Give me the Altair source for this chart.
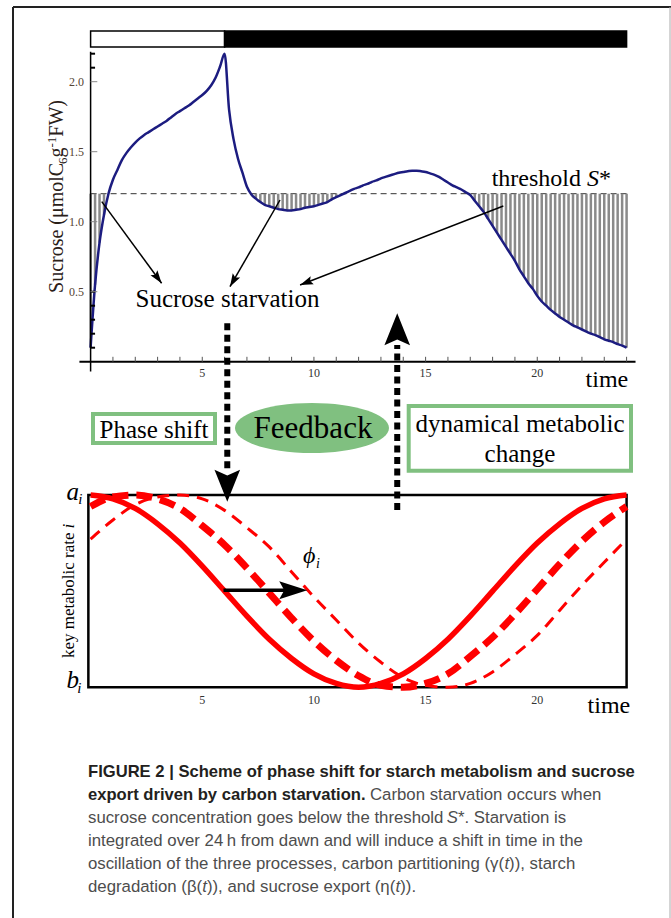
import math
import altair as alt
import pandas as pd

# ---------------- data ----------------
sucrose_time = [round(0.2 * i, 1) for i in range(121)]
sucrose = [
    0.10, 0.55, 0.85, 1.05, 1.20, 1.30, 1.37, 1.44, 1.49, 1.53,
    1.565, 1.595, 1.62, 1.64, 1.66, 1.68, 1.70, 1.72, 1.745, 1.77,
    1.79, 1.81, 1.83, 1.855, 1.88, 1.905, 1.935, 1.975, 2.03, 2.11,
    2.20, 1.80, 1.59, 1.45, 1.35, 1.25, 1.195, 1.165, 1.14, 1.12,
    1.11, 1.10, 1.09, 1.085, 1.08, 1.08, 1.085, 1.09, 1.10, 1.105,
    1.11, 1.12, 1.13, 1.14, 1.16, 1.175, 1.19, 1.205, 1.22, 1.235,
    1.245, 1.26, 1.27, 1.285, 1.295, 1.31, 1.32, 1.33, 1.34, 1.35,
    1.355, 1.36, 1.364, 1.364, 1.36, 1.355, 1.345, 1.335, 1.32, 1.30,
    1.28, 1.26, 1.245, 1.23, 1.21, 1.19, 1.15, 1.11, 1.07, 1.02,
    0.97, 0.92, 0.87, 0.82, 0.77, 0.72, 0.66, 0.61, 0.56, 0.52,
    0.47, 0.43, 0.40, 0.37, 0.345, 0.32, 0.30, 0.28, 0.26, 0.245,
    0.23, 0.215, 0.20, 0.19, 0.175, 0.16, 0.15, 0.14, 0.125, 0.115,
    0.10,
]
threshold = 1.2
light_start = [0, 6]
light_end = [6, 24]
light_fill = ["white", "black"]
time_tick_labels = [5, 10, 15, 20]
hour_ticks = list(range(1, 25))
sucrose_tick_labels = [0.5, 1.0, 1.5, 2.0]
sucrose_minor_ticks = [0.1, 0.2, 0.3, 0.4, 0.5, 2.1, 2.2]

rate_time = list(range(25))
rate_solid = [1.00, 0.98, 0.93, 0.85, 0.75, 0.63, 0.50, 0.37, 0.25, 0.15, 0.07, 0.02, 0.00,
              0.02, 0.07, 0.15, 0.25, 0.37, 0.50, 0.63, 0.75, 0.85, 0.93, 0.98, 1.00]
rate_thick_dash = [0.94, 0.99, 1.00, 0.98, 0.93, 0.84, 0.74, 0.62, 0.49, 0.36, 0.24, 0.14, 0.06,
                   0.01, 0.00, 0.02, 0.07, 0.16, 0.26, 0.38, 0.51, 0.64, 0.76, 0.86, 0.94]
rate_thin_dash = [0.77, 0.87, 0.95, 0.99, 1.00, 0.98, 0.92, 0.83, 0.73, 0.60, 0.47, 0.35, 0.23,
                  0.13, 0.05, 0.01, 0.00, 0.02, 0.08, 0.17, 0.27, 0.40, 0.53, 0.65, 0.77]

# ---------------- geometry / styles ----------------
W, H = 671, 918
T0_PX, PX_PER_H = 90.6, 22.333
S0_PX, PX_PER_S = 361.7, 140.0
R0_PX, PX_PER_R = 687.3, 192.3

XS = alt.Scale(domain=[-T0_PX / PX_PER_H, (W - T0_PX) / PX_PER_H], nice=False, zero=False)
YS = alt.Scale(domain=[(S0_PX - H) / PX_PER_S, S0_PX / PX_PER_S], nice=False, zero=False)
YR = alt.Scale(domain=[(R0_PX - H) / PX_PER_R, R0_PX / PX_PER_R], nice=False, zero=False)

SERIF = "Liberation Serif"
CAP = "Liberation Sans"
NAVY = "#1c1c80"
RED = "#ff0000"
GREEN = "#80c080"
ONE = pd.DataFrame({"k": [0]})


def xf(f):
    return alt.X(f, type="quantitative", scale=XS, axis=None)


def xd(v):
    return alt.XDatum(v, type="quantitative", scale=XS, axis=None)


def ysf(f):
    return alt.Y(f, type="quantitative", scale=YS, axis=None)


def ysd(v):
    return alt.YDatum(v, type="quantitative", scale=YS, axis=None)


def yrf(f):
    return alt.Y(f, type="quantitative", scale=YR, axis=None)


def yrd(v):
    return alt.YDatum(v, type="quantitative", scale=YR, axis=None)


def angle_of(t1, v1, t2, v2, ppu):
    dx = (t2 - t1) * PX_PER_H
    dy = -(v2 - v1) * ppu
    return (math.degrees(math.atan2(dx, -dy)) + 360) % 360


def head(t, v, ang, length, panel="S", hw=0.35, color="black"):
    path = f"M0,0 L{-hw},1 L0,0.82 L{hw},1 Z"
    y = ysd(v) if panel == "S" else yrd(v)
    return alt.Chart(ONE).mark_point(
        shape=path, size=(2 * length) ** 2, filled=True, color=color, opacity=1, angle=ang, strokeWidth=0
    ).encode(x=xd(t), y=y)


def dtext(t, v, s, panel="S", size=25, style="normal", align="left", angle=0, color="black"):
    y = ysd(v) if panel == "S" else yrd(v)
    return alt.Chart(ONE).mark_text(
        text=s, font=SERIF, fontSize=size, fontStyle=style, align=align, baseline="alphabetic",
        angle=angle, color=color
    ).encode(x=xd(t), y=y)


def ptext(x, y, s, size=16, weight="normal", color="black", font=SERIF, align="left", style="normal"):
    return alt.Chart(ONE).mark_text(
        text=s, font=font, fontSize=size, fontWeight=weight, fontStyle=style, align=align,
        baseline="alphabetic", color=color
    ).encode(x=alt.value(x), y=alt.value(y))


# ---------------- top panel ----------------
df_s = pd.DataFrame({"t": sucrose_time, "v": sucrose})

light = alt.Chart(pd.DataFrame({"start": light_start, "end": light_end, "fill": light_fill})).mark_rect(
    stroke="black", strokeWidth=1.5
).encode(x=xf("start"), x2="end", y=ysd(2.248), y2=alt.datum(2.362), fill=alt.Fill("fill:N", scale=None))

thr_line = alt.Chart(ONE).mark_rule(color="#333", strokeWidth=1, strokeDash=[6, 4]).encode(
    x=xd(0), x2=alt.datum(24), y=ysd(threshold))

bars = alt.Chart(df_s).transform_filter(f"datum.v < {threshold}").mark_rule(
    color="#8a8a8a", strokeWidth=2.5
).encode(x=xf("t"), y=ysf("v"), y2=alt.datum(threshold))

curve = alt.Chart(df_s).mark_line(color=NAVY, strokeWidth=2.5, interpolate="monotone").encode(
    x=xf("t"), y=ysf("v"))

x_line = alt.Chart(ONE).mark_rule(color="black", strokeWidth=2).encode(x=xd(-0.5), x2=alt.datum(24.4), y=ysd(0))
y_line = alt.Chart(ONE).mark_rule(color="black", strokeWidth=1.5).encode(x=xd(0), y=ysd(-0.07), y2=alt.datum(2.214))

hour_tk = alt.Chart(pd.DataFrame({"t": hour_ticks})).mark_rule(color="#555", strokeWidth=1).encode(
    x=xf("t"), y=ysd(0), y2=alt.datum(0.035))
minor_tk = alt.Chart(pd.DataFrame({"v": sucrose_minor_ticks})).mark_rule(color="black", strokeWidth=2).encode(
    x=xd(0), x2=alt.datum(0.2), y=ysf("v"))
major_tk = alt.Chart(pd.DataFrame({"v": sucrose_tick_labels})).mark_rule(color="#888", strokeWidth=1).encode(
    x=xd(0), x2=alt.datum(0.3), y=ysf("v"))

top_xlab = alt.Chart(pd.DataFrame({"t": time_tick_labels})).mark_text(
    font=SERIF, fontSize=12, color="#333", align="center", baseline="middle"
).encode(x=xf("t"), y=ysd(-0.083), text=alt.Text("t:Q"))
top_ylab = alt.Chart(pd.DataFrame({"v": sucrose_tick_labels})).mark_text(
    font=SERIF, fontSize=12, color="#554433", align="right", baseline="middle"
).encode(x=xd(-0.3), y=ysf("v"), text=alt.Text("v:Q", format=".1f"))

top_layers = [light, thr_line, bars, curve, x_line, y_line, hour_tk, minor_tk, major_tk, top_xlab, top_ylab]

# thin annotation arrows
for (t1, v1, t2, v2) in [(0.5, 1.143, 3.18, 0.56), (8.48, 1.155, 6.24, 0.536), (18.48, 1.112, 9.38, 0.548)]:
    top_layers.append(alt.Chart(ONE).mark_rule(color="black", strokeWidth=1.5).encode(
        x=xd(t1), x2=alt.datum(t2), y=ysd(v1), y2=alt.datum(v2)))
    top_layers.append(head(t2, v2, angle_of(t1, v1, t2, v2, PX_PER_S), 13, "S", hw=0.33))

top_layers += [
    dtext(6.13, 0.393, "Sucrose starvation", size=25, align="center"),
    dtext(17.96, 1.257, "threshold", size=24),
    dtext(22.23, 1.257, "S", size=24, style="italic"),
    dtext(22.76, 1.257, "*", size=24),
    dtext(23.12, -0.179, "time", size=24, align="center"),
    # y title pieces (rotated)
    dtext(-1.249, 0.491, "Sucrose (\u03bcmolC", size=20, angle=270, color="#2a2018"),
    dtext(-1.07, 1.412, "6", size=13, angle=270, color="#2a2018"),
    dtext(-1.249, 1.459, "g", size=20, angle=270, color="#2a2018"),
    dtext(-1.563, 1.53, "-1", size=13, angle=270, color="#2a2018"),
    dtext(-1.249, 1.607, "FW)", size=20, angle=270, color="#2a2018"),
]

# cross-panel dashed arrows (top panel coordinates)
top_layers += [
    alt.Chart(ONE).mark_rule(color="black", strokeWidth=6, strokeDash=[7, 4.5]).encode(
        x=xd(6.12), y=ysd(0.274), y2=alt.datum(-0.77)),
    head(6.12, -1.0, 180, 32, "S", hw=0.4),
    alt.Chart(ONE).mark_rule(color="black", strokeWidth=6, strokeDash=[7, 4.5]).encode(
        x=xd(13.73), y=ysd(-1.06), y2=alt.datum(0.12)),
    head(13.73, 0.346, 0, 32, "S", hw=0.4),
]

# middle boxes
ELLIPSE = "M-1,0 A1,0.325 0 1,1 1,0 A1,0.325 0 1,1 -1,0 Z"
top_layers += [
    alt.Chart(ONE).mark_rect(fill="white", stroke=GREEN, strokeWidth=4).encode(
        x=alt.value(93), x2=alt.value(215), y=alt.value(414), y2=alt.value(443)),
    ptext(154, 438, "Phase shift", size=25, align="center"),
    alt.Chart(ONE).mark_point(shape=ELLIPSE, size=154 ** 2, filled=True, color=GREEN, opacity=1, strokeWidth=0).encode(
        x=alt.value(312), y=alt.value(428)),
    ptext(313, 438.3, "Feedback", size=31, align="center"),
    alt.Chart(ONE).mark_rect(fill="white", stroke=GREEN, strokeWidth=4).encode(
        x=alt.value(408.7), x2=alt.value(631), y=alt.value(406), y2=alt.value(470.7)),
    ptext(520, 431.5, "dynamical metabolic", size=25, align="center"),
    ptext(520, 461.5, "change", size=25, align="center"),
]

# caption
BOLD_C = "#231f20"
REG_C = "#4d4d4d"
BS, RS = 16.6, 16.8
top_layers += [
    ptext(88, 776.7, "FIGURE 2 | Scheme of phase shift for starch metabolism and sucrose", BS, "bold", BOLD_C, CAP),
    ptext(88, 799.7, "export driven by carbon starvation.", BS, "bold", BOLD_C, CAP),
    ptext(370, 799.7, "Carbon starvation occurs when", RS, "normal", REG_C, CAP),
    ptext(88, 822.7, "sucrose concentration goes below the threshold", RS, "normal", REG_C, CAP),
    ptext(446.8, 822.7, "S", RS, "normal", REG_C, CAP, style="italic"),
    ptext(458.0, 822.7, "*. Starvation is", RS, "normal", REG_C, CAP),
    ptext(88, 845.7, "integrated over 24\u2009h from dawn and will induce a shift in time in the", RS, "normal", REG_C, CAP),
    ptext(88, 868.7, "oscillation of the three processes, carbon partitioning (\u03b3(", RS, "normal", REG_C, CAP),
    ptext(504.4, 868.7, "t", RS, "normal", REG_C, CAP, style="italic"),
    ptext(509.1, 868.7, ")), starch", RS, "normal", REG_C, CAP),
    ptext(88, 891.7, "degradation (\u03b2(", RS, "normal", REG_C, CAP),
    ptext(202.2, 891.7, "t", RS, "normal", REG_C, CAP, style="italic"),
    ptext(206.9, 891.7, ")), and sucrose export (\u03b7(", RS, "normal", REG_C, CAP),
    ptext(395.5, 891.7, "t", RS, "normal", REG_C, CAP, style="italic"),
    ptext(400.2, 891.7, ")).", RS, "normal", REG_C, CAP),
]

# outer frame
top_layers += [
    alt.Chart(ONE).mark_rule(color="#222", strokeWidth=2).encode(x=alt.value(13), y=alt.value(7), y2=alt.value(918)),
    alt.Chart(ONE).mark_rule(color="#222", strokeWidth=2).encode(x=alt.value(13), x2=alt.value(671), y=alt.value(7)),
    alt.Chart(ONE).mark_rule(color="#aaa", strokeWidth=1).encode(x=alt.value(670), y=alt.value(7), y2=alt.value(918)),
]

top = alt.layer(*top_layers)

# ---------------- bottom panel ----------------
df_r1 = pd.DataFrame({"t": rate_time, "r": rate_solid})
df_r2 = pd.DataFrame({"t": rate_time, "r": rate_thick_dash})
df_r3 = pd.DataFrame({"t": rate_time, "r": rate_thin_dash})

frame = alt.Chart(ONE).mark_rect(fillOpacity=0, stroke="black", strokeWidth=2.5).encode(
    x=xd(-0.1), x2=alt.datum(24.0), y=yrd(0), y2=alt.datum(1))

solid = alt.Chart(df_r1).mark_line(color=RED, strokeWidth=5.5, interpolate="monotone").encode(
    x=xf("t"), y=yrf("r"))
thick = alt.Chart(df_r2).mark_line(color=RED, strokeWidth=7, strokeDash=[16, 8], interpolate="monotone").encode(
    x=xf("t"), y=yrf("r"))
thin = alt.Chart(df_r3).mark_line(color=RED, strokeWidth=3, strokeDash=[12, 8], interpolate="monotone").encode(
    x=xf("t"), y=yrf("r"))

bot_xlab = alt.Chart(pd.DataFrame({"t": time_tick_labels})).mark_text(
    font=SERIF, fontSize=12, color="#333", align="center", baseline="middle"
).encode(x=xf("t"), y=yrd(-0.066), text=alt.Text("t:Q"))

bottom_layers = [
    frame, thin, thick, solid, bot_xlab,
    alt.Chart(ONE).mark_rule(color="black", strokeWidth=3.5).encode(x=xd(5.95), x2=alt.datum(9.0), y=yrd(0.505)),
    head(9.7, 0.505, 90, 28, "R", hw=0.32),
    dtext(9.51, 0.646, "\u03d5", panel="R", size=24, style="italic"),
    dtext(10.09, 0.620, "i", panel="R", size=14, style="italic"),
    dtext(-1.079, 0.974, "a", panel="R", size=25, style="italic"),
    dtext(-0.551, 0.953, "i", panel="R", size=15, style="italic"),
    dtext(-1.079, -0.004, "b", panel="R", size=25, style="italic"),
    dtext(-0.596, -0.030, "i", panel="R", size=15, style="italic"),
    dtext(-0.743, 0.152, "key metabolic rate ", panel="R", size=17, angle=270),
    dtext(-0.743, 0.826, "i", panel="R", size=17, angle=270, style="italic"),
    dtext(23.21, -0.135, "time", panel="R", size=24, align="center"),
]
bottom = alt.layer(*bottom_layers)

chart = alt.layer(top, bottom).resolve_scale(y="independent").properties(
    width=W, height=H, autosize=alt.AutoSizeParams(type="none"), padding=0, background="white"
).configure_view(stroke=None)

chart.save("out.html", embed_options={"renderer": "svg", "actions": False})
